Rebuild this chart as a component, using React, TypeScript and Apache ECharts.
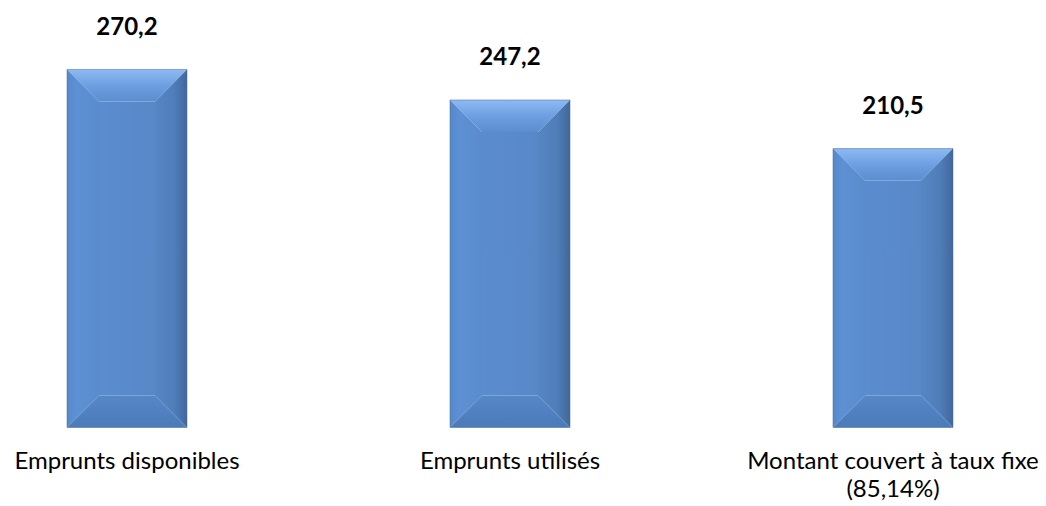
import React, { useEffect, useRef } from "react";
import * as echarts from "echarts";

const categories = ["Emprunts disponibles", "Emprunts utilisés", "Montant couvert à taux fixe\n(85,14%)"];
const values = [270.2, 247.2, 210.5];

const FONT = "Lato, 'Noto Sans', sans-serif";

function fmt(v: number) {
  return v.toFixed(1).replace(".", ",");
}

export default function App() {
  const ref = useRef<HTMLDivElement>(null);
  useEffect(() => {
    if (!ref.current) return;
    const chart = echarts.init(ref.current, undefined, { renderer: "svg" });
    const lg = (x0: number, y0: number, x1: number, y1: number, stops: [number, string][]) =>
      new echarts.graphic.LinearGradient(
        x0,
        y0,
        x1,
        y1,
        stops.map(([offset, color]) => ({ offset, color }))
      );
    chart.setOption({
      animation: false,
      grid: { left: 127, right: 153, top: 30, bottom: 78.5 },
      xAxis: {
        type: "category",
        data: categories,
        boundaryGap: false,
        axisLine: { show: false },
        axisTick: { show: false },
        splitLine: { show: false },
        axisLabel: {
          interval: 0,
          color: "#000",
          fontFamily: FONT,
          fontSize: 24,
          lineHeight: 28,
          margin: 18,
          align: "center",
        },
      },
      yAxis: { type: "value", min: 0, max: 300, show: false, splitLine: { show: false } },
      series: [
        {
          type: "custom",
          data: values.map((v, i) => [i, v]),
          renderItem: (params: any, api: any) => {
            const top = api.coord([api.value(0), api.value(1)]);
            const base = api.coord([api.value(0), 0]);
            const cx = top[0];
            const w = 120;
            const b = 32;
            const x0 = cx - w / 2;
            const x1 = cx + w / 2;
            const y0 = top[1];
            const y1 = base[1];
            return {
              type: "group",
              children: [
                {
                  type: "rect",
                  shape: { x: x0 + b, y: y0 + b, width: w - 2 * b, height: y1 - y0 - 2 * b },
                  style: { fill: lg(0, 0, 1, 0, [[0, "#5b8cce"], [1, "#5888c8"]]) },
                },
                {
                  type: "polygon",
                  shape: { points: [[x0, y0], [x1, y0], [x1 - b, y0 + b], [x0 + b, y0 + b]] },
                  style: { fill: lg(0, 0, 0, 1, [[0, "#8dbaf4"], [0.5, "#6e9fe0"], [1, "#5b8dcf"]]) },
                },
                {
                  type: "polygon",
                  shape: { points: [[x0, y0], [x0 + b, y0 + b], [x0 + b, y1 - b], [x0, y1]] },
                  style: { fill: lg(0, 0, 1, 0, [[0, "#5689cc"], [0.3, "#5d90d4"], [1, "#5a8bcd"]]) },
                },
                {
                  type: "polygon",
                  shape: { points: [[x1, y0], [x1, y1], [x1 - b, y1 - b], [x1 - b, y0 + b]] },
                  style: { fill: lg(0, 0, 1, 0, [[0, "#5786c5"], [0.6, "#4f7db9"], [1, "#42689a"]]) },
                },
                {
                  type: "polygon",
                  shape: { points: [[x0, y1], [x1, y1], [x1 - b, y1 - b], [x0 + b, y1 - b]] },
                  style: { fill: lg(0, 0, 0, 1, [[0, "#5687c7"], [1, "#4b7ab8"]]) },
                },
                {
                  type: "rect",
                  shape: { x: x0, y: y0, width: w, height: y1 - y0 },
                  style: { fill: "none", stroke: "rgba(70,105,150,0.5)", lineWidth: 1 },
                },
                {
                  type: "text",
                  style: {
                    text: fmt(api.value(1)),
                    x: cx,
                    y: y0 - 44,
                    align: "center",
                    verticalAlign: "middle",
                    fontFamily: FONT,
                    fontWeight: "bold",
                    fontSize: 24,
                    fill: "#000",
                  },
                },
              ],
            };
          },
        },
      ],
    });
    return () => chart.dispose();
  }, []);
  return (
    <div
      ref={ref}
      style={{ position: "absolute", left: 0, top: 0, width: 1046, height: 506, background: "#fff" }}
    />
  );
}
